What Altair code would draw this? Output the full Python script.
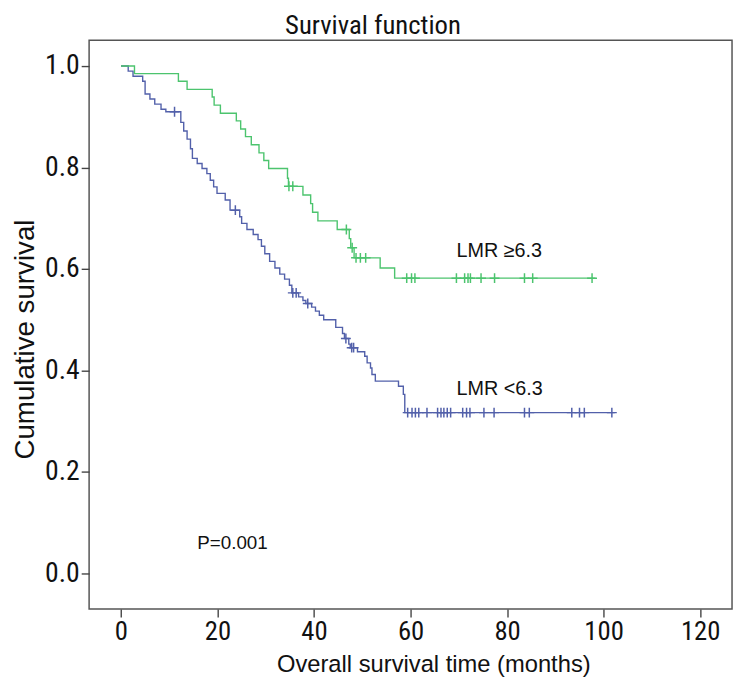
import altair as alt
import pandas as pd

# LMR < 6.3 (blue) Kaplan-Meier step points: time (months), survival after event
blue_times = [0, 1.5, 2.5, 4.5, 5.0, 6.0, 7.0, 8.3, 9.3, 12.4, 13.0, 13.7, 14.4, 14.8, 15.8,
              16.8, 17.8, 18.5, 19.2, 19.9, 21.6, 22.6, 24.6, 25.0, 26.1, 27.4, 28.4, 29.1, 29.8, 30.8,
              31.9, 32.9, 33.9, 34.9, 35.4, 36.8, 37.7, 38.3, 39.5, 40.3, 41.1, 42.0, 44.5, 45.9, 46.3,
              47.2, 47.5, 49.0, 50.5, 51.0, 51.7, 52.0, 52.7, 57.5, 58.5, 58.8, 102.3]
blue_surv = [1.0, 0.99, 0.98, 0.97, 0.945, 0.935, 0.925, 0.915, 0.91, 0.889, 0.872, 0.856, 0.837, 0.818, 0.808,
             0.798, 0.788, 0.775, 0.762, 0.749, 0.736, 0.716, 0.703, 0.690, 0.678, 0.668, 0.658, 0.645, 0.630, 0.615,
             0.602, 0.590, 0.580, 0.568, 0.553, 0.545, 0.538, 0.532, 0.525, 0.517, 0.509, 0.500, 0.485, 0.473, 0.463,
             0.452, 0.445, 0.437, 0.428, 0.415, 0.405, 0.392, 0.379, 0.369, 0.353, 0.317, 0.317]
blue_censor = [11.1, 23.7, 35.6, 36.3, 38.7, 46.6, 47.8, 48.2, 59.4, 60.3, 61.0, 61.7, 63.4, 65.6, 66.3,
               66.9, 67.6, 68.3, 70.8, 71.6, 72.3, 75.2, 77.3, 83.6, 84.6, 93.4, 95.0, 96.0, 101.7]

# LMR >= 6.3 (green)
green_times = [0, 2.8, 11.9, 13.7, 18.9, 19.3, 20.6, 23.9, 24.8, 25.8, 27.0, 28.6, 29.6, 30.6, 34.5,
               34.7, 37.7, 39.3, 39.7, 40.8, 44.8, 47.3, 47.6, 48.3, 53.7, 56.7, 98.3]
green_surv = [1.0, 0.985, 0.970, 0.954, 0.939, 0.923, 0.907, 0.892, 0.876, 0.861, 0.845, 0.829, 0.814, 0.798, 0.779,
              0.763, 0.746, 0.729, 0.712, 0.695, 0.678, 0.660, 0.642, 0.622, 0.602, 0.582, 0.582]
green_censor = [34.8, 35.6, 46.7, 47.9, 48.7, 49.6, 50.7, 59.2, 60.2, 60.9, 69.5, 71.2, 71.9, 72.4, 74.6,
                77.4, 83.6, 85.3, 97.6]

x_ticks = [0, 20, 40, 60, 80, 100, 120]
y_ticks = [0.0, 0.2, 0.4, 0.6, 0.8, 1.0]

BLUE_LINE = "#5260aa"
BLUE_MARK = "#2f45a3"
GREEN_LINE = "#4cc46e"
GREEN_MARK = "#1fcf3c"


def step_value(times, surv, t):
    val = surv[0]
    for ti, si in zip(times, surv):
        if ti <= t:
            val = si
    return val


lines = pd.concat([
    pd.DataFrame({"t": blue_times, "s": blue_surv, "g": "LMR <6.3"}),
    pd.DataFrame({"t": green_times, "s": green_surv, "g": "LMR ≥6.3"}),
])
cens = pd.concat([
    pd.DataFrame({"t": blue_censor, "s": [step_value(blue_times, blue_surv, c) for c in blue_censor], "g": "LMR <6.3"}),
    pd.DataFrame({"t": green_censor, "s": [step_value(green_times, green_surv, c) for c in green_censor], "g": "LMR ≥6.3"}),
])

COND = "Liberation Sans Narrow, Roboto Condensed, Liberation Sans, Arial"
REG = "Liberation Sans, Arial"

xscale = alt.Scale(domain=[-6.6, 126.6], nice=False, zero=False)
yscale = alt.Scale(domain=[-0.0702, 1.0507], nice=False, zero=False)

xaxis = alt.Axis(values=x_ticks, title="Overall survival time (months)", grid=False, domain=False,
                 tickSize=8, tickColor="#444", tickWidth=1.4, labelFontSize=27, labelFont=COND,
                 labelColor="#111", labelPadding=2, titleFontSize=24, titleFont=REG,
                 titleFontWeight="normal", titleColor="#111",
                 titleX=348, titleY=63, titleAlign="center", titleBaseline="alphabetic")
yaxis = alt.Axis(values=y_ticks, format=".1f", title="Cumulative survival", grid=False, domain=False,
                 tickSize=8, tickColor="#444", tickWidth=1.4, labelFontSize=28, labelFont=COND,
                 labelColor="#111", labelPadding=2, titleFontSize=28, titleFont=REG,
                 titleFontWeight="normal", titleColor="#111",
                 titleX=-56, titleY=302, titleAngle=270, titleAlign="center", titleBaseline="alphabetic")

color = alt.Color("g:N", scale=alt.Scale(domain=["LMR <6.3", "LMR ≥6.3"], range=[BLUE_LINE, GREEN_LINE]), legend=None)
mcolor = alt.Color("g:N", scale=alt.Scale(domain=["LMR <6.3", "LMR ≥6.3"], range=[BLUE_MARK, GREEN_MARK]), legend=None)

line = alt.Chart(lines).mark_line(interpolate="step-after", strokeWidth=1.4).encode(
    x=alt.X("t:Q", scale=xscale, axis=xaxis),
    y=alt.Y("s:Q", scale=yscale, axis=yaxis),
    color=color,
    detail="g:N",
)

plus = "M-1,0H1M0,-1V1"
marks = alt.Chart(cens).mark_point(shape=plus, filled=False, size=100, strokeWidth=1.5, opacity=1).encode(
    x=alt.X("t:Q", scale=xscale),
    y=alt.Y("s:Q", scale=yscale),
    color=mcolor,
)

t1 = alt.Chart().mark_text(text="LMR ≥6.3", align="left", baseline="middle", fontSize=20,
                           font=REG, color="#111").encode(x=alt.datum(69.5), y=alt.datum(0.636))
t2 = alt.Chart().mark_text(text="LMR <6.3", align="left", baseline="middle", fontSize=20,
                           font=REG, color="#111").encode(x=alt.datum(69.5), y=alt.datum(0.363))
t3 = alt.Chart().mark_text(text="P=0.001", align="left", baseline="middle", fontSize=19,
                           font=REG, color="#111").encode(x=alt.datum(15.8), y=alt.datum(0.06))
title = alt.Chart().mark_text(text="Survival function", align="center", baseline="middle", fontSize=27,
                              font=COND, color="#111").encode(x=alt.value(287), y=alt.value(-14))

chart = alt.layer(line, marks, t1, t2, t3, title).properties(
    width=650,
    height=575,
    autosize=alt.AutoSizeParams(type="none"),
    padding={"left": 82, "top": 29, "right": 3, "bottom": 68},
).configure(background="white").configure_view(stroke="#555", strokeWidth=1.5)

chart.save("out.html", embed_options={"renderer": "svg", "actions": False})
